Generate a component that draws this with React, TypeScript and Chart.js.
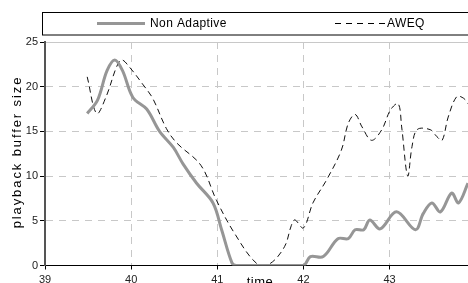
import React, { useEffect, useRef } from "react";
import { Chart, registerables } from "chart.js";

Chart.register(...registerables);

const naX = [39.49, 39.61, 39.72, 39.81, 39.9, 40.02, 40.18, 40.33, 40.49, 40.6, 40.76, 40.95, 41.05, 41.17, 41.22, 41.6, 42.0, 42.08, 42.23, 42.4, 42.52, 42.6, 42.7, 42.77, 42.89, 43.08, 43.3, 43.39, 43.49, 43.59, 43.72, 43.8, 43.91];
const naY = [17.0, 18.5, 21.8, 23.0, 21.8, 18.8, 17.5, 15.0, 13.2, 11.4, 9.2, 7.0, 4.0, 0.3, 0, 0, 0, 1.0, 1.0, 3.0, 3.0, 4.0, 4.0, 5.1, 4.1, 6.0, 4.0, 5.8, 7.0, 6.0, 8.1, 7.0, 9.2];

const awX = [39.49, 39.6, 39.71, 39.83, 39.89, 39.98, 40.14, 40.25, 40.41, 40.53, 40.81, 40.99, 41.2, 41.46, 41.61, 41.78, 41.86, 41.9, 42.0, 42.11, 42.27, 42.44, 42.52, 42.6, 42.68, 42.79, 42.91, 43.01, 43.1, 43.14, 43.21, 43.26, 43.32, 43.47, 43.55, 43.61, 43.68, 43.78, 43.86, 43.91];
const awY = [21.1, 17.0, 18.9, 22.2, 23.0, 22.2, 20.2, 18.7, 15.3, 13.7, 11.2, 7.3, 3.6, 0.2, 0.2, 2.1, 4.5, 5.1, 4.2, 7.0, 9.6, 12.9, 15.9, 16.9, 15.5, 14.0, 15.2, 17.4, 18.1, 15.5, 10.0, 13.3, 15.2, 15.2, 14.4, 14.0, 16.6, 18.9, 18.7, 18.1];

const xTicks = [39, 40, 41, 42, 43];
const yTicks = [0, 5, 10, 15, 20, 25];
const seriesNames = ["Non Adaptive", "AWEQ"];
const xTitle = "time";
const yTitle = "playback buffer size";

const FONT = "Arial, 'Liberation Sans', sans-serif";

const pts = (xs: number[], ys: number[]) => xs.map((x, i) => ({ x, y: ys[i] }));

const overlay = {
  id: "overlay",
  afterDraw(chart: any) {
    const ctx = chart.ctx as any;
    ctx.save();
    // legend box
    ctx.strokeStyle = "#000";
    ctx.lineWidth = 1;
    ctx.strokeRect(42.5, 12.5, 460, 22.5);
    ctx.font = "12px " + FONT;
    ctx.fillStyle = "#000";
    ctx.textBaseline = "middle";
    ctx.strokeStyle = "#969696";
    ctx.lineWidth = 3;
    ctx.beginPath();
    ctx.moveTo(97, 23.5);
    ctx.lineTo(145, 23.5);
    ctx.stroke();
    ctx.letterSpacing = "0.4px";
    ctx.fillText(seriesNames[0], 150, 23.5);
    ctx.strokeStyle = "#000";
    ctx.lineWidth = 1;
    ctx.setLineDash([6, 5]);
    ctx.beginPath();
    ctx.moveTo(335, 23.5);
    ctx.lineTo(386, 23.5);
    ctx.stroke();
    ctx.setLineDash([]);
    ctx.fillText(seriesNames[1], 387, 23.5);
    // x title
    ctx.font = "13px " + FONT;
    ctx.textAlign = "center";
    ctx.letterSpacing = "0.5px";
    ctx.fillText(xTitle, 260, 282);
    // y title
    ctx.translate(17.5, 152);
    ctx.rotate(-Math.PI / 2);
    ctx.font = "13px " + FONT;
    ctx.letterSpacing = "1.9px";
    ctx.textAlign = "center";
    ctx.fillText(yTitle, 0, 0);
    ctx.restore();
  },
};

export default function App() {
  const ref = useRef<HTMLCanvasElement>(null);
  useEffect(() => {
    if (!ref.current) return;
    const chart = new Chart(ref.current, {
      type: "line",
      data: {
        datasets: [
          {
            label: seriesNames[0],
            data: pts(naX, naY),
            borderColor: "#969696",
            borderWidth: 3,
            pointRadius: 0,
            tension: 0.35,
            fill: false,
          },
          {
            label: seriesNames[1],
            data: pts(awX, awY),
            borderColor: "#111",
            borderWidth: 1,
            borderDash: [6, 4],
            pointRadius: 0,
            tension: 0.35,
            fill: false,
          },
        ],
      },
      options: {
        animation: false,
        responsive: false,
        layout: { padding: { top: 42, left: 0, right: 12, bottom: 0 } },
        plugins: { legend: { display: false }, tooltip: { enabled: false } },
        scales: {
          x: {
            type: "linear",
            min: 39,
            max: 43.91,
            afterFit(scale: any) {
              scale.height = 292 - 265.5;
            },
            afterBuildTicks(scale: any) {
              scale.ticks = xTicks.map((v) => ({ value: v }));
            },
            ticks: {
              font: { size: 11, family: FONT },
              color: "#222",
              padding: 4,
              maxRotation: 0,
              autoSkip: false,
            },
            grid: {
              color: (c: any) => (c.tick && c.tick.value === 39 ? "rgba(0,0,0,0)" : "#c8c8c8"),
              tickColor: "#000",
              tickLength: 4,
              drawTicks: true,
            },
            border: { display: true, color: "#000", width: 1, dash: [7, 6] },
          },
          y: {
            min: 0,
            max: 25,
            afterFit(scale: any) {
              scale.width = 45;
            },
            afterBuildTicks(scale: any) {
              scale.ticks = yTicks.map((v) => ({ value: v }));
            },
            ticks: {
              font: { size: 11, family: FONT },
              color: "#222",
              padding: 2,
            },
            grid: {
              color: (c: any) => (c.tick && c.tick.value === 0 ? "rgba(0,0,0,0)" : "#c8c8c8"),
              tickColor: "#000",
              tickLength: 5,
            },
            border: {
              display: true,
              color: "#555",
              width: 2,
              dash: (c: any) => (c.tick && c.tick.value === 25 ? [] : [7, 6]),
            },
          },
        },
      },
      plugins: [
        {
          id: "bg",
          beforeDraw(chart: any) {
            const ctx = chart.ctx;
            ctx.save();
            ctx.fillStyle = "#fff";
            ctx.fillRect(0, 0, chart.width, chart.height);
            ctx.restore();
          },
        },
        overlay,
      ],
    } as any);
    return () => chart.destroy();
  }, []);
  return (
    <div style={{ position: "absolute", left: 0, top: 0, width: 468, height: 283, overflow: "hidden", background: "#fff" }}>
      <canvas ref={ref} width={480} height={292} style={{ display: "block", width: 480, height: 292 }} />
    </div>
  );
}
